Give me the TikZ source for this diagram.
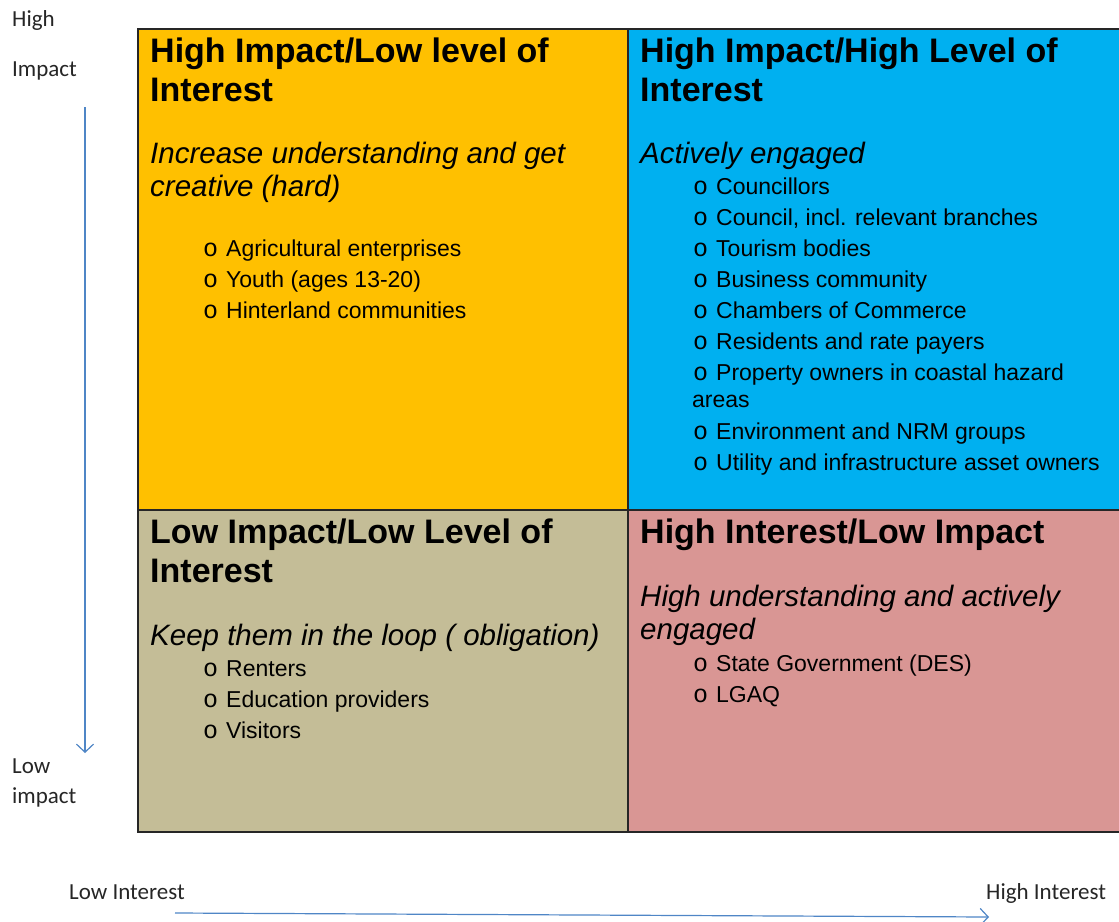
\documentclass[tikz,border=0pt]{standalone}
\usepackage{fontspec}
\setmainfont{Liberation Sans}
\newfontfamily\axisfont{Carlito}
\newfontfamily\bulletfont{Liberation Mono}
\usetikzlibrary{arrows.meta}
\definecolor{qorange}{HTML}{FFC000}
\definecolor{qblue}{HTML}{00B0F0}
\definecolor{qtan}{HTML}{C4BD97}
\definecolor{qpink}{HTML}{D99694}
\definecolor{axblue}{HTML}{4F86C6}
\newcommand{\bulletitem}[1]{\makebox[23pt][l]{\bulletfont\fontsize{25}{25}\selectfont o}#1}
\begin{document}
\begin{tikzpicture}[x=1pt,y=-1pt,
  head/.style={anchor=base west,inner sep=0,font=\fontsize{34}{40}\selectfont\bfseries},
  sub/.style={anchor=base west,inner sep=0,font=\fontsize{29.5}{33}\selectfont\itshape},
  item/.style={anchor=base west,inner sep=0,font=\fontsize{23}{31}\selectfont},
  axis/.style={anchor=base west,inner sep=0,font=\axisfont\fontsize{23}{26}\selectfont,text=black!85},
  axarrow/.style={draw=axblue,line width=1.2pt,-{Straight Barb[length=8pt,width=17pt,line width=1.2pt]}},
  frame/.style={draw=black!85,line width=1.5pt}]
\useasboundingbox (0,0) rectangle (1119,921);

% quadrant fills
\fill[qorange] (138,29) rectangle (628,510);
\fill[qblue]   (628,29) rectangle (1122,510);
\fill[qtan]    (138,510) rectangle (628,832);
\fill[qpink]   (628,510) rectangle (1122,832);
% frame and dividers
\draw[frame] (1122,29) -- (138,29) -- (138,832) -- (1122,832);
\draw[frame] (628,29) -- (628,832);
\draw[frame] (138,510) -- (1122,510);

% top-left quadrant
\node[head] (tlh1) at (150,62) {High Impact/Low level of};
\node[head] (tlh2) at (150,101) {Interest};
\node[sub] (tls1) at (150,163) {Increase understanding and get};
\node[sub] (tls2) at (150,196) {creative (hard)};
\foreach \t [count=\i] in {Agricultural enterprises, Youth (ages 13-20), Hinterland communities}
  \node[item] (tli\i) at (203,{256+31*(\i-1)}) {\bulletitem{\t}};

% top-right quadrant
\node[head] (trh1) at (640,62) {High Impact/High Level of};
\node[head] (trh2) at (640,101) {Interest};
\node[sub] (trs1) at (640,163) {Actively engaged};
\foreach \t [count=\i] in {Councillors, {Council, incl. relevant branches}, Tourism bodies,
    Business community, Chambers of Commerce, Residents and rate payers,
    Property owners in coastal hazard}
  \node[item] (tri\i) at (693,{194+31*(\i-1)}) {\bulletitem{\t}};
\node[item] (tri7b) at (692,407) {areas};
\node[item] (tri8) at (693,439) {\bulletitem{Environment and NRM groups}};
\node[item] (tri9) at (693,470) {\bulletitem{Utility and infrastructure asset owners}};

% bottom-left quadrant
\node[head] (blh1) at (150,543) {Low Impact/Low Level of};
\node[head] (blh2) at (150,582) {Interest};
\node[sub] (bls1) at (150,645) {Keep them in the loop ( obligation)};
\foreach \t [count=\i] in {Renters, Education providers, Visitors}
  \node[item] (bli\i) at (203,{676+31*(\i-1)}) {\bulletitem{\t}};

% bottom-right quadrant
\node[head] (brh1) at (640,543) {High Interest/Low Impact};
\node[sub] (brs1) at (640,606) {High understanding and actively};
\node[sub] (brs2) at (640,639) {engaged};
\foreach \t [count=\i] in {State Government (DES), LGAQ}
  \node[item] (bri\i) at (693,{671+31*(\i-1)}) {\bulletitem{\t}};

% axis labels
\node[axis] (hi1) at (12,26) {High};
\node[axis] (hi2) at (12,76) {Impact};
\node[axis] (lo1) at (12,773) {Low};
\node[axis] (lo2) at (12,803) {impact};
\node[axis] (lint) at (69,899) {Low Interest};
\node[axis] (hint) at (986,899) {High Interest};

% axis arrows
\coordinate (vtop) at (85,107);
\coordinate (vbot) at (85,753);
\coordinate (hleft) at (175,913);
\coordinate (hright) at (989,917);
\draw[axarrow] (vtop) -- (vbot);
\draw[axarrow] (hleft) -- (hright);
\end{tikzpicture}
\end{document}
